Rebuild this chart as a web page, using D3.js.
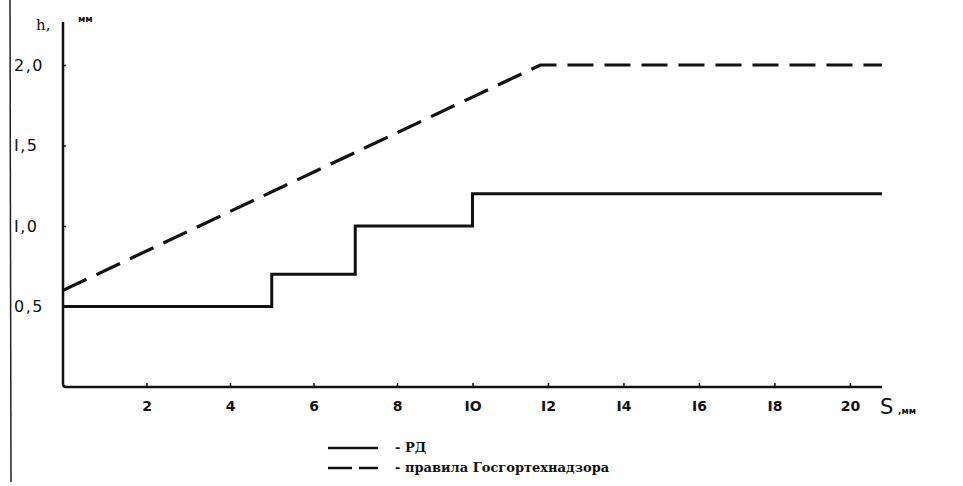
<!DOCTYPE html>
<html>
<head>
<meta charset="utf-8">
<script src="https://cdn.jsdelivr.net/npm/d3@7"></script>
<style>
  body { margin: 0; background: #fff; }
  svg text { fill: #111; }
</style>
</head>
<body>
<svg id="chart" width="963" height="486"></svg>
<script>
// S, мм -> h, мм
var xTicks = [2, 4, 6, 8, 10, 12, 14, 16, 18, 20]
var xTickLabels = ['2', '4', '6', '8', 'IO', 'I2', 'I4', 'I6', 'I8', '20']
var yTicks = [0.5, 1.0, 1.5, 2.0]
var yTickLabels = ['0,5', 'I,0', 'I,5', '2,0']

// РД (ступенчатая)
var rdS = [0, 5, 5, 7, 7, 10, 10, 20.85]
var rdH = [0.5, 0.5, 0.7, 0.7, 1.0, 1.0, 1.2, 1.2]

// правила Госгортехнадзора
var ggtnS = [0, 11.8, 20.85]
var ggtnH = [0.6, 2.0, 2.0]

var legendLabels = ['- РД', '- правила Госгортехнадзора']

var svg = d3.select('#chart')

// scan is a bit stretched on the left, so piecewise scale
var x = d3.scaleLinear().domain([0, 8, 20.85]).range([63, 397, 882])
var y = d3.scaleLinear().domain([0, 2]).range([387, 65])

// page edge from the scan
svg.append('line')
  .attr('x1', 10).attr('x2', 11).attr('y1', 0).attr('y2', 482)
  .attr('stroke', '#222').attr('stroke-width', 1.5)

// axes
var gx = svg.append('g').attr('transform', 'translate(0,' + y(0) + ')')
  .call(d3.axisBottom(x).tickValues(xTicks).tickSize(-4).tickPadding(14)
    .tickFormat(function(d, i) { return xTickLabels[i] }))
gx.select('.domain').remove()
gx.selectAll('line').attr('stroke', '#111').attr('stroke-width', 1.5)
gx.selectAll('text').attr('font-family', 'DejaVu Sans').attr('font-size', 14).attr('font-weight', 'bold')

var gy = svg.append('g').attr('transform', 'translate(' + x(0) + ',0)')
  .call(d3.axisLeft(y).tickValues(yTicks).tickSize(-3)
    .tickFormat(function(d, i) { return yTickLabels[i] }))
gy.select('.domain').remove()
gy.selectAll('line').attr('stroke', '#111').attr('stroke-width', 1.5)
gy.selectAll('text')
  .attr('text-anchor', 'start').attr('x', 14 - x(0))
  .attr('font-family', 'DejaVu Sans').attr('font-size', 16).attr('letter-spacing', 1.5)

// axis lines with the rounded corner
svg.append('path')
  .attr('d', 'M' + x(0) + ',22 L' + x(0) + ',' + (y(0) - 3) +
    ' Q' + x(0) + ',' + y(0) + ' ' + (x(0) + 3) + ',' + y(0) +
    ' L' + x(20.85) + ',' + y(0))
  .attr('fill', 'none').attr('stroke', '#111').attr('stroke-width', 2.5)

var line = d3.line().x(function(d) { return x(d[0]) }).y(function(d) { return y(d[1]) })

svg.append('path')
  .datum(d3.zip(rdS, rdH))
  .attr('d', line)
  .attr('fill', 'none').attr('stroke', '#111').attr('stroke-width', 3)

svg.append('path')
  .datum(d3.zip(ggtnS, ggtnH))
  .attr('d', line)
  .attr('fill', 'none').attr('stroke', '#111').attr('stroke-width', 3.2)
  .attr('stroke-dasharray', '26,11')

// axis titles
svg.append('text').attr('x', 36).attr('y', 30)
  .attr('font-family', 'DejaVu Serif').attr('font-size', 15).text('h,')
svg.append('text').attr('x', 78).attr('y', 22)
  .attr('font-family', 'DejaVu Sans').attr('font-size', 9).attr('font-weight', 'bold').text('мм')
svg.append('text').attr('x', 880).attr('y', 414)
  .attr('font-family', 'DejaVu Sans').attr('font-size', 21).text('S')
svg.append('text').attr('x', 898).attr('y', 414)
  .attr('font-family', 'DejaVu Sans').attr('font-size', 9).attr('font-weight', 'bold').text(',мм')

// legend
var legend = svg.append('g')
legend.append('line')
  .attr('x1', 328).attr('x2', 378).attr('y1', 448).attr('y2', 448)
  .attr('stroke', '#111').attr('stroke-width', 2.5)
legend.append('line')
  .attr('x1', 328).attr('x2', 378).attr('y1', 468).attr('y2', 468)
  .attr('stroke', '#111').attr('stroke-width', 2.5)
  .attr('stroke-dasharray', '24,7')
legend.selectAll('text.lg')
  .data(legendLabels)
  .enter()
  .append('text')
  .attr('class', 'lg')
  .attr('x', 395)
  .attr('y', function(d, i) { return 452 + i * 20 })
  .attr('font-family', 'DejaVu Serif').attr('font-size', 13).attr('font-weight', 'bold')
  .text(function(d) { return d })
</script>
</body>
</html>
